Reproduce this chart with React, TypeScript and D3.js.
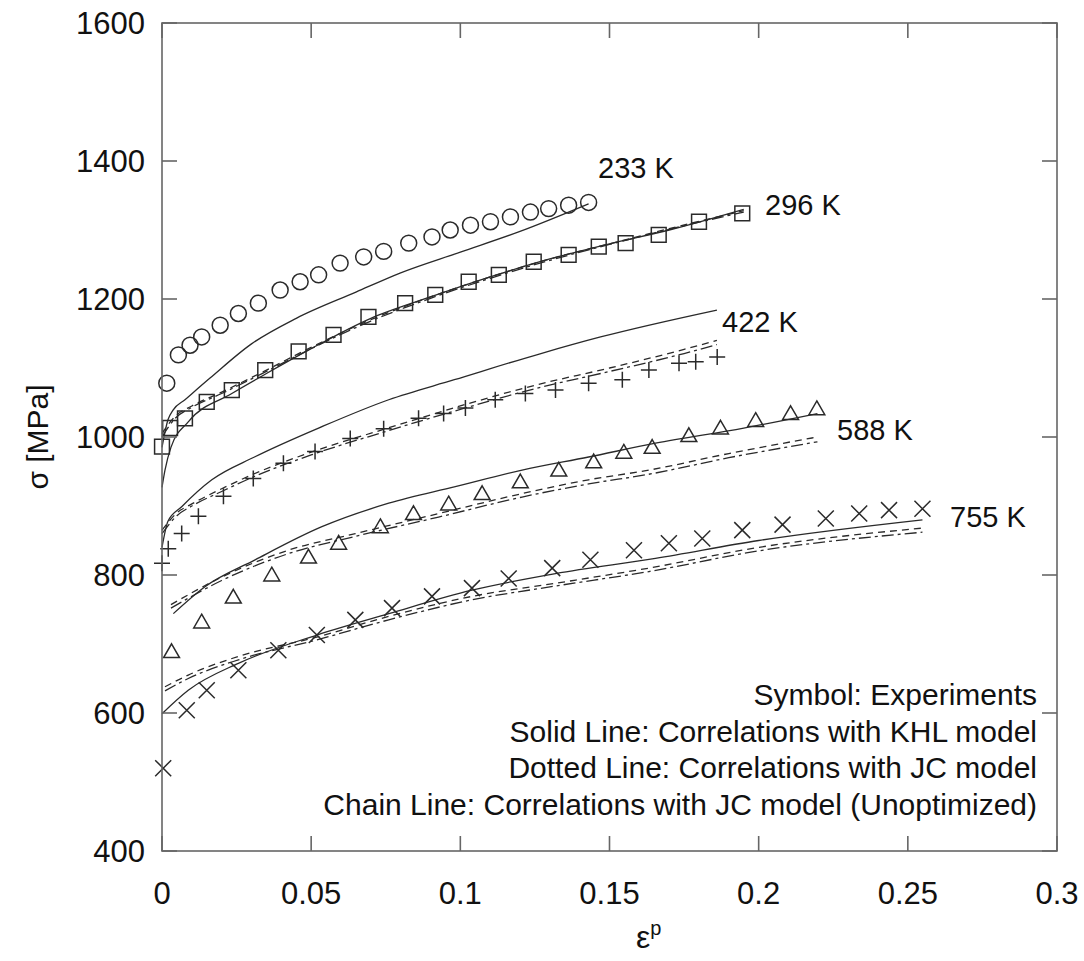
import * as d3 from "d3";

const W = 1084;
const H = 961;
const plot = { left: 162, right: 1057, top: 23, bottom: 851 };

const xTicks = [0, 0.05, 0.1, 0.15, 0.2, 0.25, 0.3];
const xTickLabels = ["0", "0.05", "0.1", "0.15", "0.2", "0.25", "0.3"];
const yTicks = [400, 600, 800, 1000, 1200, 1400, 1600];

// experiments (symbols)
const exp233Eps = [0.0016, 0.0055, 0.0094, 0.0133, 0.0195, 0.0256, 0.0323, 0.0396, 0.0463, 0.0525, 0.0597, 0.0676, 0.0743, 0.0827, 0.0905, 0.0966, 0.1034, 0.1101, 0.1168, 0.1235, 0.1296, 0.1363, 0.143];
const exp233Sig = [1078, 1119, 1133, 1145, 1162, 1179, 1194, 1213, 1225, 1235, 1252, 1261, 1269, 1281, 1290, 1300, 1307, 1312, 1319, 1326, 1331, 1336, 1340];
const exp296Eps = [0, 0.0027, 0.0077, 0.015, 0.0234, 0.0346, 0.0458, 0.0575, 0.0692, 0.0815, 0.0916, 0.1028, 0.1129, 0.1246, 0.1363, 0.1464, 0.1554, 0.1665, 0.18, 0.1945];
const exp296Sig = [986, 1013, 1027, 1051, 1068, 1097, 1124, 1148, 1174, 1194, 1206, 1225, 1235, 1254, 1264, 1276, 1281, 1293, 1312, 1324];
const exp422Eps = [0, 0.0021, 0.0066, 0.0122, 0.0206, 0.0306, 0.0407, 0.0513, 0.0631, 0.0743, 0.086, 0.0944, 0.1017, 0.1117, 0.1218, 0.1319, 0.143, 0.1543, 0.1632, 0.1733, 0.1789, 0.1861];
const exp422Sig = [817, 838, 860, 885, 914, 940, 962, 979, 998, 1012, 1027, 1034, 1042, 1054, 1063, 1068, 1078, 1083, 1097, 1107, 1109, 1116];
const exp588Eps = [0.0032, 0.0133, 0.0239, 0.0368, 0.0491, 0.0592, 0.0732, 0.0843, 0.0961, 0.1073, 0.1201, 0.133, 0.1447, 0.1548, 0.1643, 0.1766, 0.1872, 0.199, 0.2107, 0.2195];
const exp588Sig = [687, 730, 766, 798, 824, 844, 868, 887, 901, 916, 933, 950, 962, 976, 983, 1000, 1011, 1022, 1032, 1039];
const exp755Eps = [0.0004, 0.0083, 0.015, 0.0256, 0.039, 0.0519, 0.0648, 0.0771, 0.0905, 0.1039, 0.1162, 0.1308, 0.1436, 0.1582, 0.1699, 0.1811, 0.1945, 0.208, 0.2225, 0.2337, 0.2437, 0.2549];
const exp755Sig = [520, 604, 633, 662, 691, 713, 735, 752, 769, 781, 795, 810, 822, 836, 846, 853, 865, 873, 882, 889, 894, 896];

// KHL correlations (solid)
const khl233Eps = [0, 0.002, 0.0037, 0.0077, 0.016, 0.03, 0.045, 0.065, 0.08, 0.1, 0.12, 0.143];
const khl233Sig = [985, 1025, 1039, 1054, 1085, 1135, 1172, 1210, 1238, 1268, 1298, 1338];
const khl296Eps = [0, 0.001, 0.003, 0.0088, 0.0234, 0.035, 0.05, 0.07, 0.09, 0.11, 0.13, 0.15, 0.17, 0.195];
const khl296Sig = [927, 952, 985, 1022, 1063, 1092, 1128, 1172, 1203, 1232, 1258, 1280, 1300, 1330];
const khl422Eps = [0, 0.002, 0.0066, 0.0167, 0.031, 0.0536, 0.076, 0.098, 0.127, 0.147, 0.186];
const khl422Sig = [840, 878, 899, 938, 971, 1015, 1054, 1083, 1121, 1145, 1184];
const khl588Eps = [0.0038, 0.0144, 0.0312, 0.0536, 0.076, 0.0983, 0.1207, 0.143, 0.1654, 0.195, 0.2197];
const khl588Sig = [744, 783, 822, 870, 904, 928, 952, 971, 991, 1013, 1034];
const khl755Eps = [0, 0.0088, 0.0256, 0.0519, 0.076, 0.1039, 0.1319, 0.1654, 0.2, 0.2549];
const khl755Sig = [599, 633, 672, 713, 744, 778, 802, 824, 850, 880];

// JC correlations (dotted)
const jc296Eps = [0, 0.0044, 0.01, 0.02, 0.035, 0.05, 0.07, 0.09, 0.11, 0.13, 0.15, 0.17, 0.195];
const jc296Sig = [1005, 1030, 1045, 1065, 1097, 1130, 1170, 1203, 1232, 1258, 1280, 1302, 1328];
const jc422Eps = [0, 0.005, 0.01, 0.02, 0.03, 0.05, 0.075, 0.1, 0.125, 0.15, 0.175, 0.186];
const jc422Sig = [865, 890, 903, 925, 945, 978, 1012, 1045, 1075, 1100, 1127, 1140];
const jc588Eps = [0.003, 0.02, 0.0424, 0.0648, 0.0927, 0.1207, 0.143, 0.1632, 0.19, 0.2197];
const jc588Sig = [757, 797, 836, 860, 889, 918, 938, 952, 976, 1000];
const jc755Eps = [0.001, 0.0088, 0.0256, 0.0519, 0.076, 0.1039, 0.1319, 0.1632, 0.2, 0.2549];
const jc755Sig = [638, 655, 682, 710, 740, 769, 788, 810, 840, 868];

// JC unoptimized (chain), same strain grids as JC
const chain296Sig = [1000, 1027, 1043, 1063, 1095, 1128, 1168, 1201, 1230, 1256, 1279, 1301, 1326];
const chain422Sig = [860, 886, 900, 921, 941, 974, 1008, 1040, 1070, 1095, 1121, 1134];
const chain588Sig = [752, 792, 831, 856, 884, 913, 932, 946, 970, 993];
const chain755Sig = [632, 650, 677, 706, 735, 764, 784, 805, 835, 862];

const legendLines = [
  "Symbol: Experiments",
  "Solid Line: Correlations with KHL model",
  "Dotted Line: Correlations with JC model",
  "Chain Line: Correlations with JC model (Unoptimized)",
];

type Pt = [number, number];
const zip = (e: number[], s: number[]): Pt[] => e.map((v, i) => [v, s[i]]);

const FONT = "'Liberation Sans', Arial, Helvetica, sans-serif";
const INK = "#2a2a2a";

// open-stroke marker glyphs
const plusPath = "M-8,0H8M0,-8V8";
const xPath = "M-8,-8L8,8M-8,8L8,-8";

export default function App() {
  const x = d3.scaleLinear().domain([0, 0.3]).range([plot.left, plot.right]);
  const y = d3.scaleLinear().domain([400, 1600]).range([plot.bottom, plot.top]);
  const line = d3.line<Pt>().x((d) => x(d[0])).y((d) => y(d[1])).curve(d3.curveMonotoneX);

  const symbols = [
    { pts: zip(exp233Eps, exp233Sig), sym: d3.symbol(d3.symbolCircle, 200)() },
    { pts: zip(exp296Eps, exp296Sig), sym: d3.symbol(d3.symbolSquare2, 280)() },
    { pts: zip(exp422Eps, exp422Sig), sym: plusPath },
    { pts: zip(exp588Eps, exp588Sig), sym: d3.symbol(d3.symbolTriangle2, 180)() },
    { pts: zip(exp755Eps, exp755Sig), sym: xPath },
  ];

  const solid = [
    zip(khl233Eps, khl233Sig), zip(khl296Eps, khl296Sig), zip(khl422Eps, khl422Sig),
    zip(khl588Eps, khl588Sig), zip(khl755Eps, khl755Sig),
  ];
  const dotted = [
    zip(jc296Eps, jc296Sig), zip(jc422Eps, jc422Sig), zip(jc588Eps, jc588Sig), zip(jc755Eps, jc755Sig),
  ];
  const chain = [
    zip(jc296Eps, chain296Sig), zip(jc422Eps, chain422Sig), zip(jc588Eps, chain588Sig), zip(jc755Eps, chain755Sig),
  ];

  const tempLabels = [
    { t: "233 K", px: 598, py: 178 },
    { t: "296 K", px: 765, py: 215 },
    { t: "422 K", px: 722, py: 332 },
    { t: "588 K", px: 837, py: 440 },
    { t: "755 K", px: 950, py: 527 },
  ];

  const tick = 15;

  return (
    <svg width={W} height={H} style={{ position: "absolute", left: 0, top: 0, background: "#fff" }} fontFamily={FONT}>
      <rect x={0} y={0} width={W} height={H} fill="#fff" />

      {/* curves */}
      <g fill="none" stroke={INK} strokeWidth={1.3}>
        {solid.map((p, i) => <path key={`s${i}`} d={line(p) ?? ""} />)}
        {dotted.map((p, i) => <path key={`d${i}`} d={line(p) ?? ""} strokeDasharray="7,5" />)}
        {chain.map((p, i) => <path key={`c${i}`} d={line(p) ?? ""} strokeDasharray="12,4,3,4" />)}
      </g>

      {/* experimental symbols */}
      <g fill="none" stroke={INK} strokeWidth={1.5}>
        {symbols.map((s, i) =>
          s.pts.map((p, j) => (
            <path key={`m${i}-${j}`} d={s.sym ?? ""} transform={`translate(${x(p[0])},${y(p[1])})`} />
          ))
        )}
      </g>

      {/* frame and inward ticks */}
      <g stroke="#666" strokeWidth={1.6} fill="none">
        <rect x={plot.left} y={plot.top} width={plot.right - plot.left} height={plot.bottom - plot.top} />
        {xTicks.map((t) => (
          <g key={`xt${t}`}>
            <line x1={x(t)} x2={x(t)} y1={plot.bottom} y2={plot.bottom - tick} />
            <line x1={x(t)} x2={x(t)} y1={plot.top} y2={plot.top + tick} />
          </g>
        ))}
        {yTicks.map((t) => (
          <g key={`yt${t}`}>
            <line x1={plot.left} x2={plot.left + tick} y1={y(t)} y2={y(t)} />
            <line x1={plot.right} x2={plot.right - tick} y1={y(t)} y2={y(t)} />
          </g>
        ))}
      </g>

      {/* tick labels */}
      <g fontSize={31} fill="#111">
        {xTicks.map((t, i) => (
          <text key={`xl${t}`} x={x(t)} y={904} textAnchor="middle">{xTickLabels[i]}</text>
        ))}
        {yTicks.map((t) => (
          <text key={`yl${t}`} x={145} y={y(t) + 11} textAnchor="end">{t}</text>
        ))}
      </g>

      {/* axis titles */}
      <text transform="translate(48,437) rotate(-90)" textAnchor="middle" fontSize={30} fill="#111">σ [MPa]</text>
      <text x={636} y={948} fontSize={32} fill="#111">
        ε<tspan dy={-13} fontSize={20}>p</tspan>
      </text>

      {/* temperature labels */}
      <g fontSize={29} fill="#111">
        {tempLabels.map((l) => (
          <text key={l.t} x={l.px} y={l.py}>{l.t}</text>
        ))}
      </g>

      {/* legend text */}
      <g fontSize={30} fill="#111" textAnchor="end">
        {legendLines.map((s, i) => (
          <text key={s} x={1037} y={705 + i * 36.7}>{s}</text>
        ))}
      </g>
    </svg>
  );
}
